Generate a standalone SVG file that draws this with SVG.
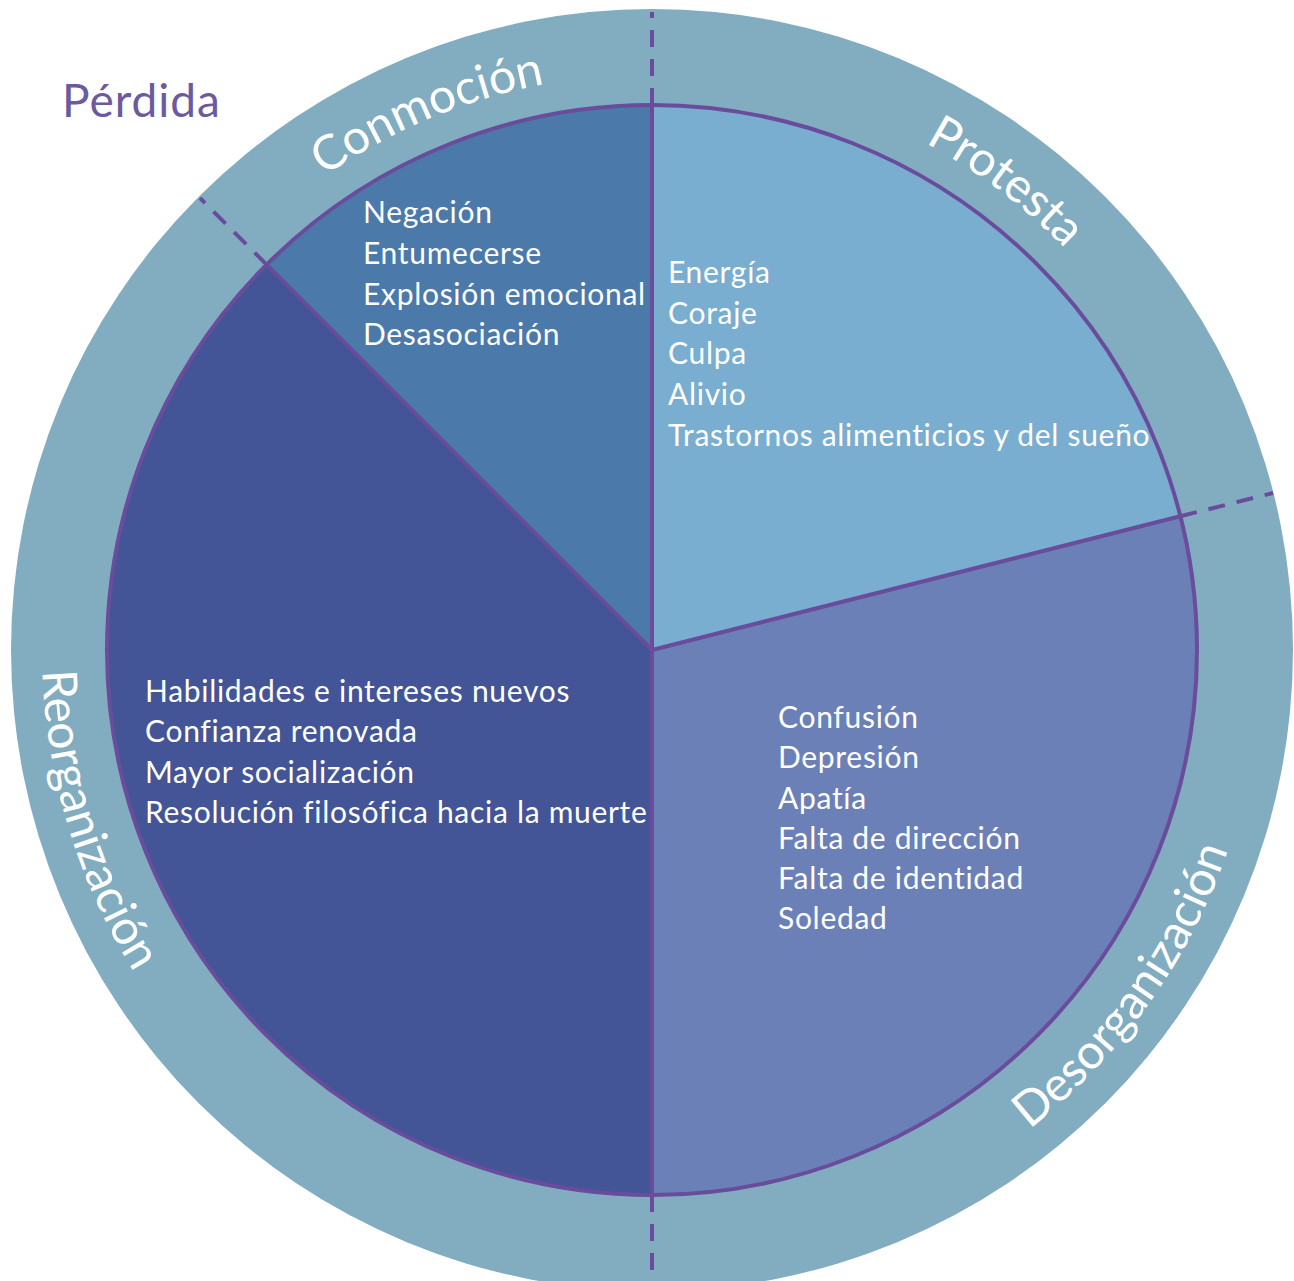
<svg xmlns="http://www.w3.org/2000/svg" xmlns:xlink="http://www.w3.org/1999/xlink" width="1294" height="1281" viewBox="0 0 1294 1281">
<style>
.item{font-family:Lato,"Open Sans","Liberation Sans",sans-serif;font-size:30px;letter-spacing:0.7px;fill:#ffffff;}
.ring{font-family:Lato,"Open Sans","Liberation Sans",sans-serif;font-size:48px;fill:#ffffff;}
.div{stroke:#6a4c9c;stroke-width:4;fill:none;}
.dash{stroke:#6a4c9c;stroke-width:4;fill:none;stroke-dasharray:17 12;}
</style>
<defs>
<path id="topArc" d="M 76 650 A 576 576 0 0 1 1228 650"/>
<path id="botArc" d="M 42 650 A 610 610 0 0 0 1262 650"/>
</defs>
<rect width="1294" height="1281" fill="#ffffff"/>
<g id="ring">
<circle cx="652" cy="650" r="641" fill="#82adc1"/>
</g>
<text x="62" y="117" font-family="Lato,'Open Sans','Liberation Sans',sans-serif" font-size="46" letter-spacing="1" fill="#6b5a9e">Pérdida</text>
<g id="conmocion">
<path d="M652,650 L266.6,264.6 A545,545 0 0 1 652,105 Z" fill="#4b79a9"/>
<text class="ring"><textPath xlink:href="#topArc" startOffset="37.4%" text-anchor="middle">Conmoción</textPath></text>
<text class="item" x="363" y="223">Negación</text>
<text class="item" x="363" y="264">Entumecerse</text>
<text class="item" x="363" y="305">Explosión emocional</text>
<text class="item" x="363" y="345">Desasociación</text>
</g>
<g id="protesta">
<path d="M652,650 L652,105 A545,545 0 0 1 1180.3,516.3 Z" fill="#79aed1"/>
<text class="ring"><textPath xlink:href="#topArc" startOffset="70.6%" text-anchor="middle">Protesta</textPath></text>
<text class="item" x="668" y="283">Energía</text>
<text class="item" x="668" y="324">Coraje</text>
<text class="item" x="668" y="364">Culpa</text>
<text class="item" x="668" y="405">Alivio</text>
<text class="item" x="668" y="446">Trastornos alimenticios y del sueño</text>
</g>
<g id="desorganizacion">
<path d="M652,650 L1180.3,516.3 A545,545 0 0 1 652,1195 Z" fill="#6c80b8"/>
<text class="ring"><textPath xlink:href="#botArc" startOffset="80.3%" text-anchor="middle">Desorganización</textPath></text>
<text class="item" x="778" y="728">Confusión</text>
<text class="item" x="778" y="768">Depresión</text>
<text class="item" x="778" y="809">Apatía</text>
<text class="item" x="778" y="849">Falta de dirección</text>
<text class="item" x="778" y="889">Falta de identidad</text>
<text class="item" x="778" y="929">Soledad</text>
</g>
<g id="reorganizacion">
<path d="M652,650 L652,1195 A545,545 0 0 1 266.6,264.6 Z" fill="#435596"/>
<text class="ring"><textPath xlink:href="#botArc" startOffset="9.4%" text-anchor="middle">Reorganización</textPath></text>
<text class="item" x="145" y="702">Habilidades e intereses nuevos</text>
<text class="item" x="145" y="742">Confianza renovada</text>
<text class="item" x="145" y="783">Mayor socialización</text>
<text class="item" x="145" y="823">Resolución filosófica hacia la muerte</text>
</g>
<g id="connectors">
<circle class="div" cx="652" cy="650" r="545"/>
<line class="div" x1="652" y1="650" x2="652" y2="105"/>
<line class="div" x1="652" y1="650" x2="1180.3" y2="516.3"/>
<line class="div" x1="652" y1="650" x2="652" y2="1195"/>
<line class="div" x1="652" y1="650" x2="266.6" y2="264.6"/>
<line class="dash" x1="652" y1="105" x2="652" y2="12"/>
<line class="dash" x1="1180.3" y1="516.3" x2="1273" y2="493"/>
<line class="dash" x1="652" y1="1195" x2="652" y2="1281"/>
<line class="dash" x1="266.6" y1="264.6" x2="200" y2="198"/>
</g>
</svg>
